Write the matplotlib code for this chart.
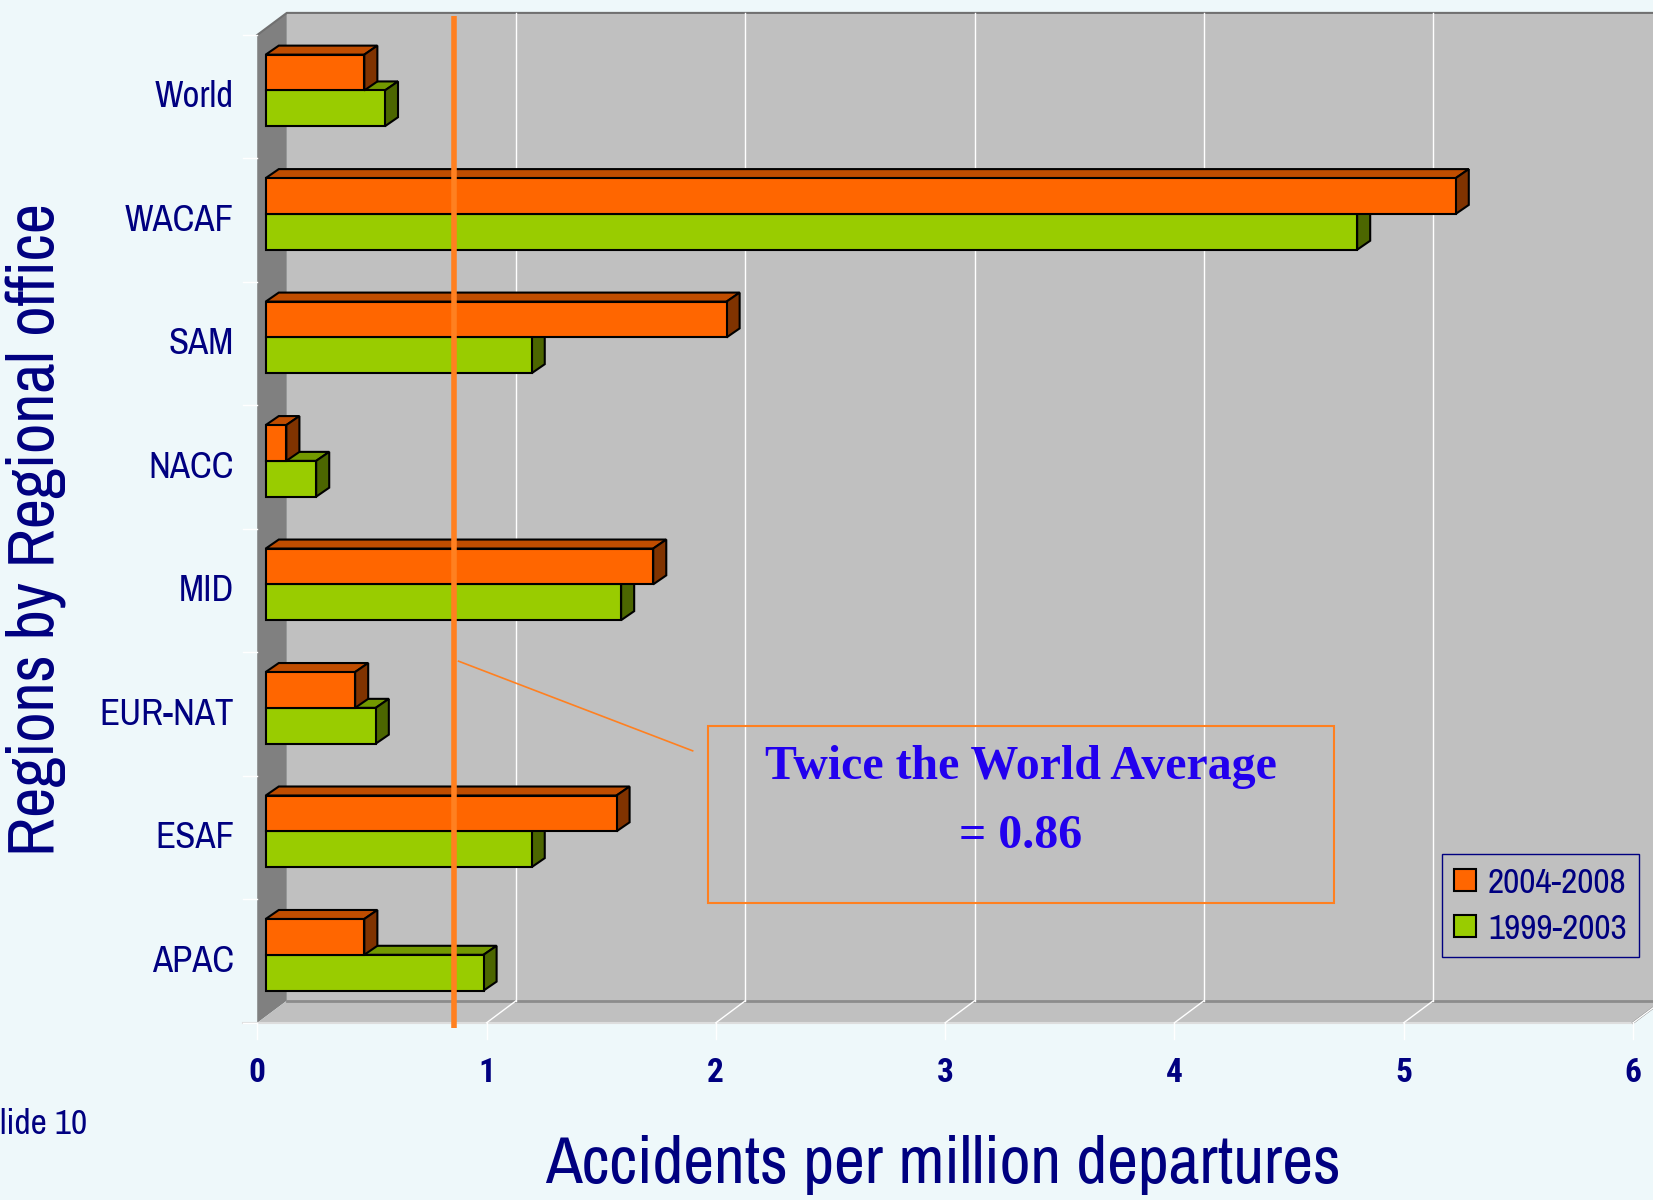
import matplotlib
matplotlib.use("Agg")
import matplotlib.pyplot as plt
from matplotlib.patches import Polygon, Rectangle, Patch

# data (categories listed bottom -> top)
regions = ["APAC", "ESAF", "EUR-NAT", "MID", "NACC", "SAM", "WACAF", "World"]
rate_0408 = [0.43, 1.53, 0.39, 1.69, 0.09, 2.01, 5.19, 0.43]
rate_9903 = [0.95, 1.16, 0.48, 1.55, 0.22, 1.16, 4.76, 0.52]
series_names = ["2004-2008", "1999-2003"]
xticks = [0, 1, 2, 3, 4, 5, 6]
twice_avg = 0.86

navy = "#000080"
bg = "#EEF8FA"
narrow = ["Liberation Sans Narrow", "Archivo Narrow", "PT Sans Narrow",
          "Roboto Condensed", "Liberation Sans"]
narrow_bold = ["Roboto Condensed", "Archivo Narrow", "PT Sans Narrow", "Liberation Sans"]

# colours of front / top / side faces
orange = ("#FF6600", "#C04D00", "#803300")
green = ("#99CC00", "#739900", "#4C6600")

fig = plt.figure(figsize=(16.53, 12), dpi=100)
fig.patch.set_facecolor(bg)
ax = fig.add_axes([0, 0, 1, 1])
ax.set_xlim(-1.1218, 6.0874)
ax.set_ylim(-1.4347, 8.2835)
ax.axis("off")

n = len(regions)
DX, DY = 0.129, 0.179      # depth of the walls
bx, by = 0.037, 0.051      # plane of the bars
bdx, bdy = 0.057, 0.073    # depth of a bar
h = 0.29

# walls
ax.add_patch(Polygon([(DX, DY), (6.3, DY), (6.3, n + DY), (DX, n + DY)],
                     closed=True, facecolor="#C0C0C0", edgecolor="none", zorder=1))
ax.add_patch(Polygon([(0, 0), (DX, DY), (DX, n + DY), (0, n)],
                     closed=True, facecolor="#808080", edgecolor="none", zorder=1))
ax.add_patch(Polygon([(0, 0), (6, 0), (6 + DX, DY), (DX, DY)],
                     closed=True, facecolor="#C0C0C0", edgecolor="none", zorder=1))
ax.plot([0, DX, 6.3], [n, n + DY, n + DY], color="#707070", lw=1.5, zorder=2)
ax.plot([DX, 6.3], [DY, DY], color="#8C8C8C", lw=2, zorder=2)
ax.plot([-0.06, 6], [0, 0], color="#DDDDDD", lw=1.5, zorder=2)
ax.plot([6, 6 + DX], [0, DY], color="#808080", lw=1.5, zorder=2)

# grid lines
for k in xticks[1:]:
    if k < 6:
        ax.plot([k + DX, k + DX], [DY, n + DY], color="white", lw=1, zorder=2)
    ax.plot([k, k + DX], [0, DY], color="white", lw=1, zorder=2)
for k in xticks:
    ax.plot([k, k], [0, -0.13], color="white", lw=1, zorder=2)
for j in range(n + 1):
    ax.plot([-0.06, 0], [j, j], color="white", lw=1, zorder=2)


def bar3d(x0, x1, y0, y1, cols):
    front, top, side = cols
    kw = dict(closed=True, edgecolor="black", lw=1.5, zorder=3)
    ax.add_patch(Polygon([(x0, y1), (x1, y1), (x1 + bdx, y1 + bdy), (x0 + bdx, y1 + bdy)],
                         facecolor=top, **kw))
    ax.add_patch(Polygon([(x1, y0), (x1 + bdx, y0 + bdy), (x1 + bdx, y1 + bdy), (x1, y1)],
                         facecolor=side, **kw))
    ax.add_patch(Rectangle((x0, y0), x1 - x0, y1 - y0, facecolor=front,
                           edgecolor="black", lw=1.5, zorder=3))


for i in range(n):
    yb = i + 0.5 + by
    bar3d(bx, bx + rate_9903[i], yb - h, yb, green)
    bar3d(bx, bx + rate_0408[i], yb, yb + h, orange)
    ax.text(-0.101, i + 0.5, regions[i], ha="right", va="center",
            fontsize=26.5, color=navy, family=narrow)

# x tick labels
for k in xticks:
    ax.text(k, -0.41, str(k), ha="center", va="center", fontsize=24,
            color=navy, family=narrow_bold, fontweight="bold")

ax.text(2.989, -1.153, "Accidents per million departures", ha="center", va="center",
        fontsize=48.5, color=navy, family=narrow)
ax.text(-0.961, 3.997, "Regions by Regional office", ha="center", va="center",
        rotation=90, fontsize=47.5, color=navy, family=narrow)
ax.text(-1.1218, -0.82, "lide 10", ha="left", va="center", fontsize=25.5,
        color=navy, family=narrow)

# twice the world average marker
ax.plot([twice_avg, twice_avg], [-0.043, 8.155], color="#FF8020", lw=4, zorder=5,
        solid_capstyle="butt")
ax.plot([0.878, 1.899], [2.929, 2.203], color="#FF8020", lw=1.2, zorder=5)
ax.add_patch(Rectangle((1.968, 0.974), 4.694 - 1.968, 2.408 - 0.974, facecolor="none",
                       edgecolor="#FF8020", lw=1.5, zorder=5))
ax.text(3.329, 2.075, "Twice the World Average", ha="center", va="center",
        fontsize=34.5, color="#2200EE", fontweight="bold",
        family=["Liberation Serif", "DejaVu Serif"], zorder=6)
ax.text(3.329, 1.512, "= %.2f" % twice_avg, ha="center", va="center",
        fontsize=34.5, color="#2200EE", fontweight="bold",
        family=["Liberation Serif", "DejaVu Serif"], zorder=6)

# legend
handles = [Patch(facecolor=orange[0], edgecolor="black", lw=1.5, label=series_names[0]),
           Patch(facecolor=green[0], edgecolor="black", lw=1.5, label=series_names[1])]
leg = fig.legend(handles=handles, loc="upper left", bbox_to_anchor=(0.8724, 0.2882),
                 fancybox=False, framealpha=1, facecolor="#C0C0C0", edgecolor=navy,
                 prop={"family": narrow, "size": 25.5}, handlelength=0.6, handleheight=0.6,
                 handletextpad=0.35, borderpad=0.35, labelspacing=0.4, borderaxespad=0)
for t in leg.get_texts():
    t.set_color(navy)
leg.set_zorder(10)

fig.savefig("out.png", dpi=100, facecolor=bg)
